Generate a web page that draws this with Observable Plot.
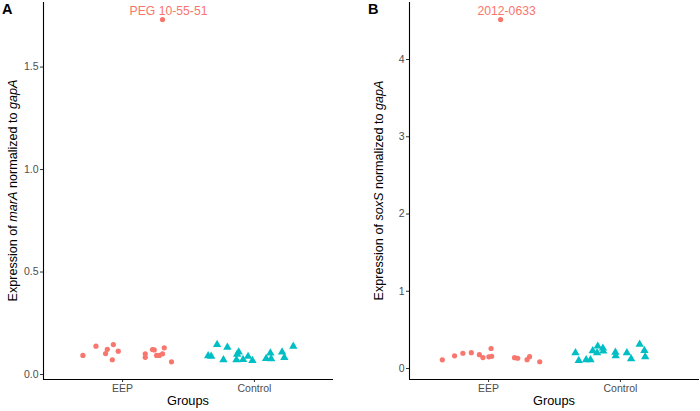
<!DOCTYPE html>
<html>
<head>
<meta charset="utf-8">
<script src="https://cdn.jsdelivr.net/npm/d3@7"></script>
<script src="https://cdn.jsdelivr.net/npm/@observablehq/plot@0.6"></script>
<style>
  html, body { margin: 0; padding: 0; background: #fff; }
  #wrap { display: flex; width: 700px; height: 411px; }
  svg { font-family: "Liberation Sans", Arial, sans-serif; }
</style>
</head>
<body>
<div id="wrap"></div>
<script>
// ---- Data (x = group position 1 = EEP, 2 = Control, with jitter; y = expression) ----
const groups = ["EEP", "Control"];
const colors = ["#F8766D", "#00BFC4"];

// Panel A: marA
const eepAx = [0.699, 0.798, 0.884, 0.871, 0.930, 0.967, 0.922, 1.172, 1.172, 1.227, 1.240, 1.258, 1.278, 1.303, 1.316, 1.371];
const eepAy = [0.093, 0.138, 0.123, 0.102, 0.146, 0.114, 0.072, 0.101, 0.084, 0.122, 0.120, 0.093, 0.093, 0.101, 0.130, 0.062];
const ctlAx = [1.717, 1.795, 1.649, 1.672, 1.765, 1.881, 1.869, 1.864, 1.914, 1.952, 1.985, 2.089, 2.121, 2.127, 2.210, 2.227, 2.295];
const ctlAy = [0.146, 0.133, 0.091, 0.089, 0.072, 0.109, 0.098, 0.072, 0.073, 0.088, 0.068, 0.078, 0.104, 0.077, 0.109, 0.083, 0.137];

// Panel B: soxS
const eepBx = [0.649, 0.742, 0.805, 0.869, 0.930, 0.957, 1.002, 1.023, 1.019, 1.197, 1.221, 1.292, 1.311, 1.388];
const eepBy = [0.113, 0.164, 0.198, 0.205, 0.179, 0.142, 0.151, 0.158, 0.259, 0.140, 0.133, 0.114, 0.153, 0.088];
const ctlBx = [1.659, 1.684, 1.740, 1.773, 1.790, 1.828, 1.823, 1.867, 1.870, 1.962, 1.964, 2.049, 2.081, 2.146, 2.182, 2.188];
const ctlBy = [0.203, 0.104, 0.113, 0.113, 0.230, 0.289, 0.203, 0.263, 0.227, 0.211, 0.164, 0.203, 0.126, 0.313, 0.233, 0.151];

// Labelled outliers (EEP group)
const outlierLabels = ["PEG 10-55-51", "2012-0633"];
const outlierX = [1.303, 1.091];
const outlierY = [1.732, 4.518];

const panelLetters = ["A", "B"];
const geneNames = ["marA", "soxS"];
const yTicksA = [0, 0.5, 1.0, 1.5];
const yTicksB = [0, 1, 2, 3, 4];
const xDomain = [0.4, 2.6];
const yDomainA = [-0.0244, 1.815];
const yDomainB = [-0.142, 4.738];

function rows(xs, ys, g) { return xs.map((x, i) => ({x, y: ys[i], g})); }

function panel(opts) {
  const {eep, ctl, yDomain, yTicks, tickFmt, marginLeft, marginRight, outIdx, letter, gene, titleX, letterX} = opts;
  const H = 411, W = 350, mt = 2, mb = 32;
  const out = [{x: outlierX[outIdx], y: outlierY[outIdx], label: outlierLabels[outIdx]}];
  const svg = Plot.plot({
    width: W, height: H,
    marginTop: mt, marginBottom: mb, marginLeft, marginRight,
    style: {fontFamily: '"Liberation Sans", Arial, sans-serif', background: "#fff"},
    x: {domain: xDomain},
    y: {domain: yDomain},
    marks: [
      Plot.axisY({ticks: yTicks, tickFormat: tickFmt, tickSize: 3, tickPadding: 2, stroke: "#333", fill: "#4D4D4D", fontSize: 10.5, label: null}),
      Plot.axisX({ticks: [1, 2], tickFormat: d => groups[d - 1], tickSize: 3, tickPadding: 2, stroke: "#333", fill: "#4D4D4D", fontSize: 10.5, label: null}),
      Plot.ruleX([xDomain[0]], {stroke: "#000", strokeWidth: 1.1}),
      Plot.ruleY([yDomain[0]], {stroke: "#000", strokeWidth: 1.1}),
      Plot.dot(eep, {x: "x", y: "y", r: 2.6, fill: colors[0], symbol: "circle"}),
      Plot.dot(ctl, {x: "x", y: "y", r: 3.1, fill: colors[1], symbol: "triangle"}),
      Plot.dot(out, {x: "x", y: "y", r: 2.6, fill: colors[0]}),
      Plot.text(out, {x: "x", y: "y", text: "label", dx: 6, dy: -8, fill: colors[0], fontSize: 12.2})
    ]
  });
  const s = d3.select(svg);
  const cy = (mt + H - mb) / 2;
  // Y axis title with italic gene names
  const t = s.append("text")
    .attr("transform", `translate(${titleX},${cy}) rotate(-90)`)
    .attr("text-anchor", "middle")
    .attr("font-size", 12.6)
    .attr("fill", "#000");
  t.append("tspan").text("Expression of ");
  t.append("tspan").attr("font-style", "italic").text(gene);
  t.append("tspan").text(" normalized to ");
  t.append("tspan").attr("font-style", "italic").text("gapA");
  // X axis title
  const plotLeft = marginLeft, plotRight = W - marginRight;
  s.append("text")
    .attr("x", (plotLeft + plotRight) / 2).attr("y", 405)
    .attr("text-anchor", "middle").attr("font-size", 12.8).attr("fill", "#000")
    .text("Groups");
  // Panel letter
  s.append("text")
    .attr("x", letterX).attr("y", 14)
    .attr("text-anchor", "start")
    .attr("font-size", 14.5).attr("font-weight", "bold").attr("fill", "#000")
    .text(letter);
  return svg;
}

const wrap = document.getElementById("wrap");
wrap.appendChild(panel({
  eep: rows(eepAx, eepAy, groups[0]), ctl: rows(ctlAx, ctlAy, groups[1]),
  yDomain: yDomainA, yTicks: yTicksA, tickFmt: d3.format(".1f"),
  marginLeft: 43, marginRight: 17, outIdx: 0, letter: panelLetters[0], gene: geneNames[0],
  titleX: 17, letterX: 2
}));
wrap.appendChild(panel({
  eep: rows(eepBx, eepBy, groups[0]), ctl: rows(ctlBx, ctlBy, groups[1]),
  yDomain: yDomainB, yTicks: yTicksB, tickFmt: d3.format("d"),
  marginLeft: 59, marginRight: 1, outIdx: 1, letter: panelLetters[1], gene: geneNames[1],
  titleX: 33, letterX: 18
}));
</script>
</body>
</html>
